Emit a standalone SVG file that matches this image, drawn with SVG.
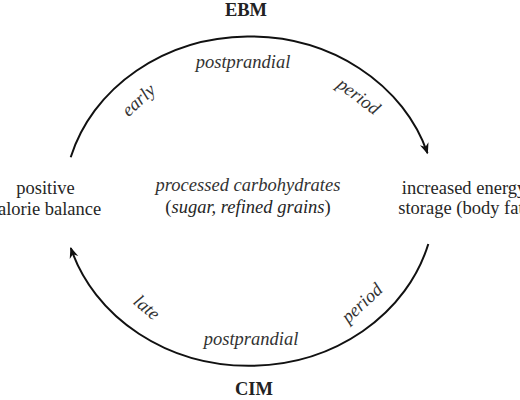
<svg xmlns="http://www.w3.org/2000/svg" width="520" height="400" viewBox="0 0 520 400">
  <style>
    text { font-family: "Liberation Serif", "Times New Roman", serif; font-size: 18.5px; fill: #262626; text-anchor: middle; }
    .b { font-weight: bold; fill: #222; }
    .i { font-style: italic; fill: #333; }
    .arc { fill: none; stroke: #111; stroke-width: 2; }
  </style>
  <defs>
    <marker id="ah" markerUnits="userSpaceOnUse" markerWidth="14" markerHeight="12" viewBox="-11 -6 13 12" refX="0" refY="0" orient="auto">
      <path d="M1,0 L-10,-4.5 L-6.5,0 L-10,4.5 Z" fill="#111"/>
    </marker>
  </defs>
  <rect width="520" height="400" fill="#fff"/>

  <g id="connectors">
    <path id="ebm-arc" class="arc" d="M70.7,157.3 A186,165.5 0 0 1 427.5,153.2" marker-end="url(#ah)"/>
    <path id="cim-arc" class="arc" d="M428.3,244 A186,165.5 0 0 1 70.8,248" marker-end="url(#ah)"/>
  </g>

  <g id="arc-labels">
    <text class="b" x="246" y="16">EBM</text>
    <text class="i" x="243" y="68">postprandial</text>
    <text class="i" transform="translate(142.5,104.5) rotate(-42)">early</text>
    <text class="i" transform="translate(355,101) rotate(37)">period</text>
    <text class="i" transform="translate(143,312) rotate(40)">late</text>
    <text class="i" x="251" y="345">postprandial</text>
    <text class="i" transform="translate(366,307.5) rotate(-43)">period</text>
    <text class="b" x="254" y="395">CIM</text>
  </g>

  <g id="node-positive">
    <text x="45.5" y="194">positive</text>
    <text x="45.5" y="215">calorie balance</text>
  </g>

  <g id="node-center">
    <text class="i" x="248" y="191">processed carbohydrates</text>
    <text x="248" y="213">(<tspan font-style="italic">sugar, refined grains</tspan>)</text>
  </g>

  <g id="node-storage">
    <text x="464" y="193.5">increased energy</text>
    <text x="464" y="213.5">storage (body fat)</text>
  </g>
</svg>
